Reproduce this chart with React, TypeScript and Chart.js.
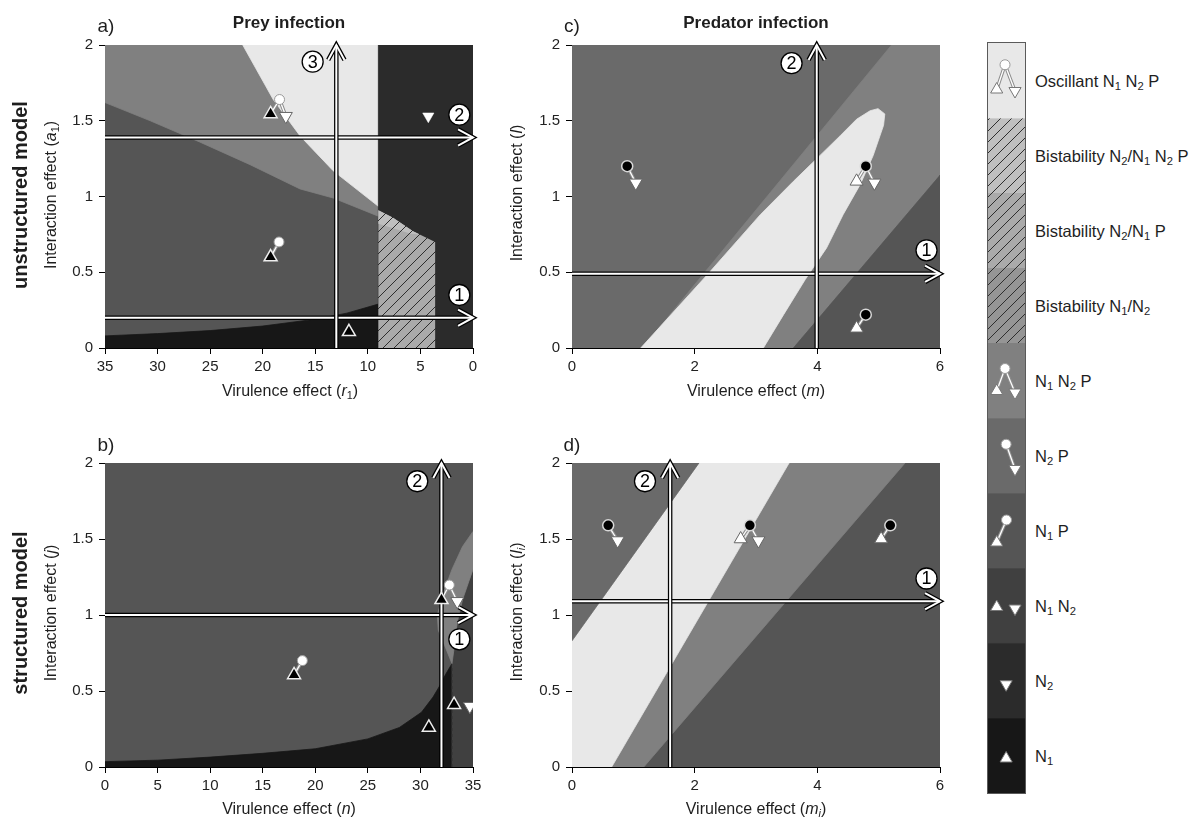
import React, { useEffect, useRef } from "react";
import { Chart, registerables } from "chart.js";

Chart.register(...registerables);

const FONT = "'Liberation Sans', Arial, Helvetica, sans-serif";

type Pt = [number, number];

// ---------- colours of the outcome classes ----------
const C_OSC = "#e8e8e8";
const C_B_N2_N1N2P = "#bfbfbf";
const C_B_N2_N1P = "#aaaaaa";
const C_B_N1_N2 = "#959595";
const C_N1N2P = "#808080";
const C_N2P = "#6a6a6a";
const C_N1P = "#555555";
const C_N1N2 = "#404040";
const C_N2 = "#2b2b2b";
const C_N1 = "#171717";

// ---------- tick values ----------
const ticksR1: number[] = [35, 30, 25, 20, 15, 10, 5, 0];
const ticksN: number[] = [0, 5, 10, 15, 20, 25, 30, 35];
const ticksM: number[] = [0, 2, 4, 6];
const ticksY: number[] = [0, 0.5, 1, 1.5, 2];

// ---------- panel a : prey infection, unstructured (r1, a1) ----------
const aN1P: Pt[] = [[35, 0], [35, 2], [0, 2], [0, 0]];
const aN1N2P: Pt[] = [[35, 2], [35, 1.62], [30.7, 1.5], [26, 1.36], [21.2, 1.21], [16.45, 1.05], [13.3, 0.99], [9, 0.87], [9, 2]];
const aOsc: Pt[] = [[21.9, 2], [19, 1.64], [16.45, 1.4], [13.3, 1.17], [9, 0.935], [9, 2]];
const aN1: Pt[] = [[35, 0], [35, 0.08], [30, 0.095], [25, 0.115], [20, 0.145], [15, 0.19], [12, 0.23], [9, 0.29], [9, 0]];
const aN2: Pt[] = [[9, 0], [9, 2], [0, 2], [0, 0]];
const aBistN2N1P: Pt[] = [[9, 0], [9, 0.91], [7.6, 0.86], [5.7, 0.77], [3.6, 0.7], [3.6, 0]];
const aBistN2N1N2P: Pt[] = [[9, 0.91], [7.6, 0.86], [5.7, 0.77], [5.0, 0.747], [6, 0.755], [7.6, 0.79], [9, 0.82]];
const aWhiteCircles: Pt[] = [[18.4, 1.64], [18.45, 0.7]];
const aBlackUp: Pt[] = [[19.25, 1.545], [19.25, 0.6], [11.8, 0.107]];
const aWhiteDown: Pt[] = [[17.8, 1.53]];
const aSolidDown: Pt[] = [[4.25, 1.53]];
const aLinks: [Pt, Pt][] = [[[18.4, 1.64], [19.25, 1.545]], [[18.4, 1.64], [17.8, 1.53]], [[18.45, 0.7], [19.25, 0.6]]];
const aArrows: [Pt, Pt][] = [[[35, 1.39], [0, 1.39]], [[35, 0.2], [0, 0.2]], [[13, 0], [13, 2]]];
const aArrowLabels: { at: Pt; text: string }[] = [{ at: [1.3, 1.54], text: "2" }, { at: [1.3, 0.35], text: "1" }, { at: [15.25, 1.89], text: "3" }];

// ---------- panel b : prey infection, structured (n, j) ----------
const bN1P: Pt[] = [[0, 0], [0, 2], [35, 2], [35, 0]];
const bN1: Pt[] = [[0, 0], [0, 0.035], [5, 0.045], [10, 0.065], [15, 0.09], [20, 0.12], [25, 0.185], [28, 0.26], [30.1, 0.36], [31.2, 0.46], [31.8, 0.53], [32.4, 0.61], [33, 0.68], [33, 0]];
const bN1N2: Pt[] = [[33, 0], [33, 0.68], [33.2, 0.78], [33.5, 0.95], [34, 1.1], [34.6, 1.22], [35, 1.3], [35, 0]];
const bN1N2P: Pt[] = [[35, 1.55], [34, 1.45], [33, 1.3], [32.2, 1.15], [31.6, 1.0], [31.7, 0.9], [32.3, 0.8], [33, 0.68], [33.2, 0.78], [33.5, 0.95], [34, 1.1], [34.6, 1.22], [35, 1.3]];
const bDashed: Pt[] = [[33, 0], [33, 0.66]];
const bWhiteCircles: Pt[] = [[18.77, 0.7], [32.75, 1.197]];
const bBlackUp: Pt[] = [[17.98, 0.606], [30.8, 0.26], [32.0, 1.1], [33.2, 0.41]];
const bWhiteDown: Pt[] = [[33.5, 1.09], [34.7, 0.4]];
const bLinks: [Pt, Pt][] = [[[18.77, 0.7], [17.98, 0.606]], [[32.75, 1.197], [32.0, 1.1]], [[32.75, 1.197], [33.5, 1.09]]];
const bArrows: [Pt, Pt][] = [[[0, 1], [35, 1]], [[32, 0], [32, 2]]];
const bArrowLabels: { at: Pt; text: string }[] = [{ at: [33.7, 0.84], text: "1" }, { at: [29.7, 1.88], text: "2" }];

// ---------- panel c : predator infection, unstructured (m, l) ----------
const cN2P: Pt[] = [[0, 0], [0, 2], [6, 2], [6, 0]];
const cN1N2P: Pt[] = [[1.15, 0], [5.21, 2], [6, 2], [6, 1.14], [3.61, 0]];
const cN1P: Pt[] = [[3.61, 0], [6, 1.14], [6, 0]];
const cOsc: Pt[] = [[1.12, 0], [2.22, 0.49], [3.07, 0.88], [3.61, 1.1], [3.99, 1.25], [4.37, 1.4], [4.64, 1.51], [4.86, 1.566], [4.99, 1.58], [5.1, 1.545], [5.08, 1.47], [4.91, 1.27], [4.7, 1.08], [4.42, 0.88], [4.15, 0.66], [3.8, 0.45], [3.45, 0.22], [3.12, 0]];
const cBlackCircles: Pt[] = [[0.9, 1.2], [4.79, 1.2], [4.79, 0.22]];
const cWhiteUp: Pt[] = [[4.64, 1.1], [4.64, 0.13]];
const cWhiteDown: Pt[] = [[1.04, 1.09], [4.93, 1.09]];
const cLinks: [Pt, Pt][] = [[[0.9, 1.2], [1.04, 1.09]], [[4.79, 1.2], [4.64, 1.1]], [[4.79, 1.2], [4.93, 1.09]], [[4.79, 0.22], [4.64, 0.13]]];
const cArrows: [Pt, Pt][] = [[[0, 0.49], [6, 0.49]], [[3.99, 0], [3.99, 2]]];
const cArrowLabels: { at: Pt; text: string }[] = [{ at: [5.78, 0.645], text: "1" }, { at: [3.58, 1.88], text: "2" }];

// ---------- panel d : predator infection, structured (mi, li) ----------
const dN1P: Pt[] = [[0, 0], [0, 2], [6, 2], [6, 0]];
const dN1N2P: Pt[] = [[0.647, 0], [1.17, 0], [5.43, 2], [3.54, 2]];
const dOsc: Pt[] = [[0, 0], [0.647, 0], [3.54, 2], [2.07, 2], [0, 0.83]];
const dN2P: Pt[] = [[0, 0.83], [2.07, 2], [0, 2]];
const dBlackCircles: Pt[] = [[0.59, 1.59], [2.9, 1.59], [5.19, 1.59]];
const dWhiteUp: Pt[] = [[2.75, 1.5], [5.04, 1.5]];
const dWhiteDown: Pt[] = [[0.745, 1.49], [3.04, 1.49]];
const dLinks: [Pt, Pt][] = [[[0.59, 1.59], [0.745, 1.49]], [[2.9, 1.59], [2.75, 1.5]], [[2.9, 1.59], [3.04, 1.49]], [[5.19, 1.59], [5.04, 1.5]]];
const dArrows: [Pt, Pt][] = [[[0, 1.09], [6, 1.09]], [[1.6, 0], [1.6, 2]]];
const dArrowLabels: { at: Pt; text: string }[] = [{ at: [5.78, 1.24], text: "1" }, { at: [1.19, 1.88], text: "2" }];

// ---------- legend (bottom to top) ----------
const legendColors: string[] = [C_N1, C_N2, C_N1N2, C_N1P, C_N2P, C_N1N2P, C_B_N1_N2, C_B_N2_N1P, C_B_N2_N1N2P, C_OSC];
const legendHatched: boolean[] = [false, false, false, false, false, false, true, true, true, false];
const legCircles: Pt[] = [[0.46, 9.71], [0.46, 5.66], [0.49, 4.65], [0.5, 3.64]];
const legUp: Pt[] = [[0.235, 9.38], [0.235, 5.36], [0.235, 3.34], [0.235, 2.48], [0.49, 0.46]];
const legDown: Pt[] = [[0.73, 9.36], [0.73, 5.34], [0.73, 4.32], [0.73, 2.46], [0.49, 1.45]];
const legLinks: [Pt, Pt][] = [[[0.46, 9.71], [0.235, 9.38]], [[0.46, 9.71], [0.73, 9.36]], [[0.46, 5.66], [0.235, 5.36]], [[0.46, 5.66], [0.73, 5.34]], [[0.49, 4.65], [0.73, 4.32]], [[0.5, 3.64], [0.235, 3.34]]];

// ---------- helpers ----------
type Kind = "wc" | "bc" | "bu" | "wu" | "wd" | "sd" | "lu" | "ld";
type Region = { pts: Pt[]; color: string; hatch?: boolean };
type Marker = { pts: Pt[]; kind: Kind };

const MARK: Record<Kind, any> = {
  wc: { pointStyle: "circle", pointRadius: 5, pointBackgroundColor: "#ffffff", pointBorderColor: "#9a9a9a", pointBorderWidth: 1 },
  bc: { pointStyle: "circle", pointRadius: 5.5, pointBackgroundColor: "#000000", pointBorderColor: "#d8d8d8", pointBorderWidth: 1.5 },
  bu: { pointStyle: "triangle", pointRadius: 7.5, pointBackgroundColor: "#000000", pointBorderColor: "#eeeeee", pointBorderWidth: 1.5 },
  wu: { pointStyle: "triangle", pointRadius: 7.5, pointBackgroundColor: "#ffffff", pointBorderColor: "#666666", pointBorderWidth: 1 },
  wd: { pointStyle: "triangle", pointRadius: 7.5, pointRotation: 180, pointBackgroundColor: "#ffffff", pointBorderColor: "#666666", pointBorderWidth: 1 },
  sd: { pointStyle: "triangle", pointRadius: 6.5, pointRotation: 180, pointBackgroundColor: "#ffffff", pointBorderColor: "#ffffff", pointBorderWidth: 0.5 },
  lu: { pointStyle: "triangle", pointRadius: 7, pointBackgroundColor: "#ffffff", pointBorderColor: "#777777", pointBorderWidth: 1 },
  ld: { pointStyle: "triangle", pointRadius: 7, pointRotation: 180, pointBackgroundColor: "#ffffff", pointBorderColor: "#777777", pointBorderWidth: 1 },
};

const toXY = (pts: Pt[]) => pts.map(([x, y]) => ({ x, y }));

function makeHatch(bg: string): CanvasPattern | string {
  const s = 11;
  const c = document.createElement("canvas");
  c.width = s;
  c.height = s;
  const g = c.getContext("2d");
  if (!g) return bg;
  g.fillStyle = bg;
  g.fillRect(0, 0, s, s);
  g.strokeStyle = "#2e2e2e";
  g.lineWidth = 1;
  g.beginPath();
  g.moveTo(-1, s + 1);
  g.lineTo(s + 1, -1);
  g.moveTo(-1, 1);
  g.lineTo(1, -1);
  g.moveTo(s - 1, s + 1);
  g.lineTo(s + 1, s - 1);
  g.stroke();
  return g.createPattern(c, "repeat") || bg;
}

function regionDatasets(regions: Region[]) {
  return regions.map((r) => ({
    data: toXY(r.pts),
    showLine: true,
    fill: "shape",
    backgroundColor: r.hatch ? makeHatch(r.color) : r.color,
    borderColor: r.hatch ? "rgba(0,0,0,0)" : r.color,
    borderWidth: r.hatch ? 0 : 0.8,
    pointRadius: 0,
    tension: 0,
  }));
}

function linkDatasets(links: [Pt, Pt][]) {
  const out: any[] = [];
  for (const l of links) {
    out.push({ data: toXY(l), showLine: true, fill: false, borderColor: "#8c8c8c", borderWidth: 3.4, pointRadius: 0 });
    out.push({ data: toXY(l), showLine: true, fill: false, borderColor: "#ffffff", borderWidth: 1.3, pointRadius: 0 });
  }
  return out;
}

function markerDatasets(markers: Marker[]) {
  return markers.map((m) => ({ data: toXY(m.pts), showLine: false, fill: false, ...MARK[m.kind] }));
}

function drawArrow(ctx: CanvasRenderingContext2D, x1: number, y1: number, x2: number, y2: number) {
  const ang = Math.atan2(y2 - y1, x2 - x1);
  const L = 17;
  const A = 0.5;
  const h1x = x2 - L * Math.cos(ang - A);
  const h1y = y2 - L * Math.sin(ang - A);
  const h2x = x2 - L * Math.cos(ang + A);
  const h2y = y2 - L * Math.sin(ang + A);
  const passes: [string, number][] = [["#000000", 4.5], ["#ffffff", 2]];
  for (const [col, w] of passes) {
    ctx.strokeStyle = col;
    ctx.lineWidth = w;
    ctx.lineCap = "butt";
    ctx.lineJoin = "miter";
    ctx.beginPath();
    ctx.moveTo(x1, y1);
    ctx.lineTo(x2, y2);
    ctx.stroke();
    ctx.beginPath();
    ctx.moveTo(h1x, h1y);
    ctx.lineTo(x2, y2);
    ctx.lineTo(h2x, h2y);
    ctx.stroke();
  }
}

function arrowPlugin(arrows: [Pt, Pt][], labels: { at: Pt; text: string }[], afterIndex: number) {
  return {
    id: "arrows",
    afterDatasetDraw(chart: any, args: any) {
      if (args.index !== afterIndex) return;
      const ctx: CanvasRenderingContext2D = chart.ctx;
      const xs = chart.scales.x;
      const ys = chart.scales.y;
      ctx.save();
      for (const [a, b] of arrows) {
        drawArrow(ctx, xs.getPixelForValue(a[0]), ys.getPixelForValue(a[1]), xs.getPixelForValue(b[0]), ys.getPixelForValue(b[1]));
      }
      for (const l of labels) {
        const x = xs.getPixelForValue(l.at[0]);
        const y = ys.getPixelForValue(l.at[1]);
        ctx.beginPath();
        ctx.arc(x, y, 10.5, 0, Math.PI * 2);
        ctx.fillStyle = "#ffffff";
        ctx.fill();
        ctx.lineWidth = 1.3;
        ctx.strokeStyle = "#000000";
        ctx.stroke();
        ctx.fillStyle = "#000000";
        ctx.font = `18px ${FONT}`;
        ctx.textAlign = "center";
        ctx.textBaseline = "middle";
        ctx.fillText(l.text, x, y + 1);
      }
      ctx.restore();
    },
  };
}

interface PanelSpec {
  xMin: number;
  xMax: number;
  reverse: boolean;
  xTicks: number[];
  regions: Region[];
  dashed?: Pt[][];
  links: [Pt, Pt][];
  markers: Marker[];
  arrows: [Pt, Pt][];
  labels: { at: Pt; text: string }[];
}

function axisCommon(ticks: number[]) {
  return {
    afterBuildTicks: (s: any) => {
      s.ticks = ticks.map((v) => ({ value: v }));
    },
    grid: { drawOnChartArea: false, drawTicks: true, tickLength: 6, color: "#000000", lineWidth: 1 },
    border: { display: true, color: "#000000", width: 1 },
  };
}

function panelConfig(p: PanelSpec) {
  const ds: any[] = [];
  ds.push(...regionDatasets(p.regions));
  for (const d of p.dashed || []) {
    ds.push({ data: toXY(d), showLine: true, fill: false, borderColor: "#2f2f2f", borderWidth: 1, borderDash: [3, 3], pointRadius: 0 });
  }
  ds.push(...linkDatasets(p.links));
  const lastBase = ds.length - 1;
  ds.push(...markerDatasets(p.markers));
  ds.forEach((d, i) => (d.order = ds.length - i));
  return {
    type: "line",
    data: { datasets: ds },
    options: {
      responsive: false,
      animation: false,
      devicePixelRatio: 1,
      events: [],
      layout: { autoPadding: false, padding: { top: 12, right: 17, left: 0, bottom: 0 } },
      plugins: { legend: { display: false }, tooltip: { enabled: false }, title: { display: false } },
      scales: {
        x: {
          type: "linear",
          min: p.xMin,
          max: p.xMax,
          reverse: p.reverse,
          ...axisCommon(p.xTicks),
          afterFit: (s: any) => {
            s.height = 40;
          },
          ticks: { color: "#222222", font: { family: FONT, size: 15 }, padding: 4, autoSkip: false, maxRotation: 0, callback: (v: any) => String(v) },
        },
        y: {
          type: "linear",
          min: 0,
          max: 2,
          ...axisCommon(ticksY),
          afterFit: (s: any) => {
            s.width = 75;
          },
          ticks: { color: "#222222", font: { family: FONT, size: 15 }, padding: 6, autoSkip: false, callback: (v: any) => String(v) },
        },
      },
    },
    plugins: [arrowPlugin(p.arrows, p.labels, lastBase)],
  };
}

function legendConfig() {
  const regions: Region[] = legendColors.map((c, i) => ({
    pts: [[0, i], [1, i], [1, i + 1], [0, i + 1]] as Pt[],
    color: c,
    hatch: legendHatched[i],
  }));
  const ds: any[] = [
    ...regionDatasets(regions),
    ...linkDatasets(legLinks),
    ...markerDatasets([
      { pts: legCircles, kind: "wc" },
      { pts: legUp, kind: "lu" },
      { pts: legDown, kind: "ld" },
    ]),
  ];
  ds.forEach((d, i) => (d.order = ds.length - i));
  return {
    type: "line",
    data: { datasets: ds },
    options: {
      responsive: false,
      animation: false,
      devicePixelRatio: 1,
      events: [],
      layout: { autoPadding: false, padding: 0 },
      plugins: { legend: { display: false }, tooltip: { enabled: false } },
      scales: {
        x: { type: "linear", min: 0, max: 1, display: false },
        y: { type: "linear", min: 0, max: 10, display: false },
      },
    },
  };
}

const panelA: PanelSpec = {
  xMin: 0, xMax: 35, reverse: true, xTicks: ticksR1,
  regions: [
    { pts: aN1P, color: C_N1P },
    { pts: aN1N2P, color: C_N1N2P },
    { pts: aOsc, color: C_OSC },
    { pts: aN1, color: C_N1 },
    { pts: aN2, color: C_N2 },
    { pts: aBistN2N1P, color: C_B_N2_N1P, hatch: true },
    { pts: aBistN2N1N2P, color: C_B_N2_N1N2P, hatch: true },
  ],
  links: aLinks,
  markers: [
    { pts: aWhiteCircles, kind: "wc" },
    { pts: aBlackUp, kind: "bu" },
    { pts: aWhiteDown, kind: "wd" },
    { pts: aSolidDown, kind: "sd" },
  ],
  arrows: aArrows,
  labels: aArrowLabels,
};

const panelB: PanelSpec = {
  xMin: 0, xMax: 35, reverse: false, xTicks: ticksN,
  regions: [
    { pts: bN1P, color: C_N1P },
    { pts: bN1, color: C_N1 },
    { pts: bN1N2, color: C_N1N2 },
    { pts: bN1N2P, color: C_N1N2P },
  ],
  dashed: [bDashed],
  links: bLinks,
  markers: [
    { pts: bWhiteCircles, kind: "wc" },
    { pts: bBlackUp, kind: "bu" },
    { pts: bWhiteDown, kind: "wd" },
  ],
  arrows: bArrows,
  labels: bArrowLabels,
};

const panelC: PanelSpec = {
  xMin: 0, xMax: 6, reverse: false, xTicks: ticksM,
  regions: [
    { pts: cN2P, color: C_N2P },
    { pts: cN1N2P, color: C_N1N2P },
    { pts: cN1P, color: C_N1P },
    { pts: cOsc, color: C_OSC },
  ],
  links: cLinks,
  markers: [
    { pts: cBlackCircles, kind: "bc" },
    { pts: cWhiteUp, kind: "wu" },
    { pts: cWhiteDown, kind: "wd" },
  ],
  arrows: cArrows,
  labels: cArrowLabels,
};

const panelD: PanelSpec = {
  xMin: 0, xMax: 6, reverse: false, xTicks: ticksM,
  regions: [
    { pts: dN1P, color: C_N1P },
    { pts: dN1N2P, color: C_N1N2P },
    { pts: dOsc, color: C_OSC },
    { pts: dN2P, color: C_N2P },
  ],
  links: dLinks,
  markers: [
    { pts: dBlackCircles, kind: "bc" },
    { pts: dWhiteUp, kind: "wu" },
    { pts: dWhiteDown, kind: "wd" },
  ],
  arrows: dArrows,
  labels: dArrowLabels,
};

function ChartCanvas(props: { left: number; top: number; width: number; height: number; make: () => any; extra?: any }) {
  const ref = useRef<HTMLCanvasElement>(null);
  useEffect(() => {
    if (!ref.current) return;
    const chart = new Chart(ref.current, props.make());
    return () => chart.destroy();
  }, []);
  return (
    <canvas
      ref={ref}
      width={props.width}
      height={props.height}
      style={{ position: "absolute", left: props.left, top: props.top, width: props.width, height: props.height, ...(props.extra || {}) }}
    />
  );
}

const Sub = ({ c }: { c: string }) => (
  <span style={{ fontSize: "0.68em", position: "relative", top: "0.28em" }}>{c}</span>
);

function Txt(props: { x: number; y: number; size: number; bold?: boolean; rot?: boolean; children: any }) {
  return (
    <div
      style={{
        position: "absolute",
        left: props.x,
        top: props.y,
        transform: `translate(-50%, -50%)${props.rot ? " rotate(-90deg)" : ""}`,
        fontSize: props.size,
        fontWeight: props.bold ? 700 : 400,
        whiteSpace: "nowrap",
        lineHeight: 1,
        color: "#1e1e1e",
      }}
    >
      {props.children}
    </div>
  );
}

const legendLabels: any[] = [
  <>Oscillant N<Sub c="1" /> N<Sub c="2" /> P</>,
  <>Bistability N<Sub c="2" />/N<Sub c="1" /> N<Sub c="2" /> P</>,
  <>Bistability N<Sub c="2" />/N<Sub c="1" /> P</>,
  <>Bistability N<Sub c="1" />/N<Sub c="2" /></>,
  <>N<Sub c="1" /> N<Sub c="2" /> P</>,
  <>N<Sub c="2" /> P</>,
  <>N<Sub c="1" /> P</>,
  <>N<Sub c="1" /> N<Sub c="2" /></>,
  <>N<Sub c="2" /></>,
  <>N<Sub c="1" /></>,
];

export default function App() {
  return (
    <div
      style={{
        position: "fixed",
        left: 0,
        top: 0,
        width: 1204,
        height: 821,
        overflow: "hidden",
        background: "#ffffff",
        fontFamily: FONT,
      }}
    >
      <ChartCanvas left={30} top={30} width={460} height={358} make={() => panelConfig(panelA)} />
      <ChartCanvas left={497} top={30} width={460} height={358} make={() => panelConfig(panelC)} />
      <ChartCanvas left={30} top={448} width={460} height={359} make={() => panelConfig(panelB)} />
      <ChartCanvas left={497} top={448} width={460} height={359} make={() => panelConfig(panelD)} />
      <ChartCanvas left={988} top={43} width={37} height={750} make={legendConfig} extra={{ outline: "1px solid #5a5a5a" }} />

      <Txt x={106} y={25} size={19}>a)</Txt>
      <Txt x={572} y={25} size={19}>c)</Txt>
      <Txt x={106} y={444} size={19}>b)</Txt>
      <Txt x={572} y={444} size={19}>d)</Txt>
      <Txt x={289} y={21.5} size={17} bold>Prey infection</Txt>
      <Txt x={756} y={21.5} size={17} bold>Predator infection</Txt>
      <Txt x={20} y={195} size={20} bold rot>unstructured model</Txt>
      <Txt x={20} y={613} size={20} bold rot>structured model</Txt>

      <Txt x={50.5} y={195} size={16} rot>Interaction effect (<i>a</i><Sub c="1" />)</Txt>
      <Txt x={50.5} y={613} size={16} rot>Interaction effect (<i>j</i>)</Txt>
      <Txt x={517} y={193} size={16} rot>Interaction effect (<i>l</i>)</Txt>
      <Txt x={517} y={612} size={16} rot>Interaction effect (<i>l<Sub c="i" /></i>)</Txt>

      <Txt x={290} y={391} size={16}>Virulence effect (<i>r</i><Sub c="1" />)</Txt>
      <Txt x={289} y={809} size={16}>Virulence effect (<i>n</i>)</Txt>
      <Txt x={756} y={391} size={16}>Virulence effect (<i>m</i>)</Txt>
      <Txt x={756} y={809} size={16}>Virulence effect (<i>m<Sub c="i" /></i>)</Txt>

      {legendLabels.map((lab, i) => (
        <div
          key={i}
          style={{
            position: "absolute",
            left: 1035,
            top: 43 + 75 * (i + 0.5),
            transform: "translateY(-50%)",
            fontSize: 16.5,
            lineHeight: 1,
            whiteSpace: "nowrap",
            color: "#1e1e1e",
          }}
        >
          {lab}
        </div>
      ))}
    </div>
  );
}
